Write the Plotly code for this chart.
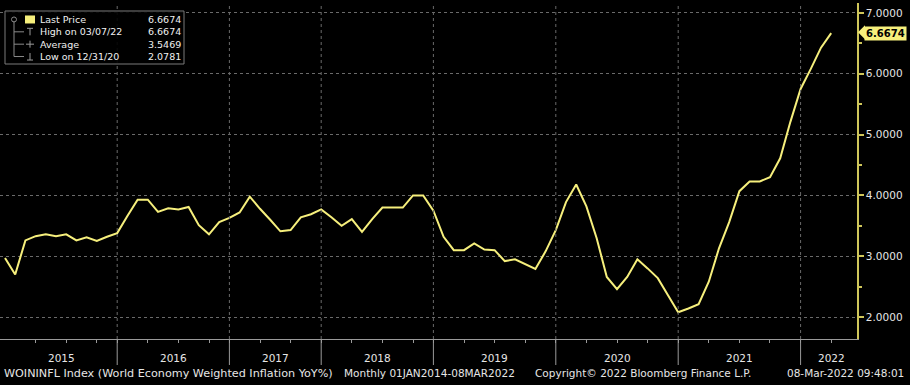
import plotly.graph_objects as go

# ---- data (monthly, index-based x) ----
values = [2.97, 2.70, 3.26, 3.33, 3.36, 3.33, 3.36, 3.26, 3.31, 3.25, 3.32, 3.38,
          3.66, 3.93, 3.93, 3.73, 3.79, 3.77, 3.81, 3.51, 3.36, 3.56, 3.63,
          3.72, 3.98, 3.78, 3.60, 3.41, 3.43, 3.64, 3.69, 3.77,
          3.64, 3.50, 3.61, 3.40, 3.61, 3.80, 3.80, 3.80, 4.00, 4.00, 3.75,
          3.32, 3.10, 3.10, 3.21, 3.11, 3.10, 2.92, 2.95, 2.87, 2.79, 3.08, 3.43,
          3.89, 4.18, 3.82, 3.30, 2.66, 2.46, 2.66, 2.95, 2.80, 2.64, 2.36, 2.0781,
          2.14, 2.21, 2.58, 3.13, 3.56, 4.07, 4.23, 4.23, 4.30, 4.61, 5.21,
          5.75, 6.08, 6.43, 6.6674]
x_index = list(range(len(values)))

year_labels = ["2015", "2016", "2017", "2018", "2019", "2020", "2021", "2022"]
year_bounds = [0, 11, 22, 31, 42, 54, 66, 78, 84]   # index of year separators
y_ticks = [2, 3, 4, 5, 6, 7]
y_ticktext = ["2.0000", "3.0000", "4.0000", "5.0000", "6.0000", "7.0000"]

legend_names = ["Last Price", "High on 03/07/22", "Average", "Low on 12/31/20"]
legend_values = ["6.6674", "6.6674", "3.5469", "2.0781"]
last_price = 6.6674

footer_title = "WOININFL Index (World Economy Weighted Inflation YoY%)"
footer_range = "Monthly 01JAN2014-08MAR2022"
footer_mid = "Copyright\u00a9 2022 Bloomberg Finance L.P."
footer_right = "08-Mar-2022 09:48:01"

# ---- geometry ----
W, H = 910, 385
ML, MR, MT, MB = 0, 53, 3, 46
PW, PH = W - ML - MR, H - MT - MB
FONT = "DejaVu Sans"
LINE = "#f6ef7c"
GRID = "#6a6a6a"
TXT = "#e6e6e6"

def px(x):
    return (x - ML) / PW

def py(y):
    return (H - MB - y) / PH

fig = go.Figure()
fig.add_trace(go.Scatter(x=x_index, y=values, mode="lines",
                         line=dict(color=LINE, width=2), hoverinfo="skip",
                         showlegend=False))

# quarter ticks on x axis
qticks = []
for b in year_bounds[:-1]:
    for k in (3, 6, 9):
        qticks.append(b + k)
qticks += [b for b in year_bounds[1:-1]]

fig.update_layout(
    width=W, height=H,
    margin=dict(l=ML, r=MR, t=MT, b=MB),
    paper_bgcolor="black", plot_bgcolor="black",
    showlegend=False, hovermode=False,
    xaxis=dict(range=[-0.49, 83.53], showgrid=False, zeroline=False,
               showline=True, linecolor="#9a9a9a", linewidth=1,
               tickmode="array", tickvals=qticks, ticks="outside",
               ticklen=3, tickcolor="#9a9a9a", showticklabels=False),
    yaxis=dict(range=[1.639, 7.164], side="right", zeroline=False,
               showline=True, linecolor="#cfc65a", linewidth=1.5,
               tickmode="array", tickvals=y_ticks, ticktext=y_ticktext,
               ticks="outside", ticklen=5, tickcolor="#cfc65a", tickwidth=1.5,
               minor=dict(tickvals=[1.5, 2.5, 3.5, 4.5, 5.5, 6.5], ticks="outside",
                          ticklen=3, tickcolor="#cfc65a", showgrid=False),
               showgrid=True, gridcolor=GRID, griddash="dot", gridwidth=1,
               tickfont=dict(family=FONT, size=10.5, color=TXT)),
)

# year separators
for b in year_bounds[1:-1]:
    fig.add_shape(type="line", xref="x", yref="paper", x0=b, x1=b, y0=0, y1=py(5),
                  line=dict(color=GRID, width=1, dash="dot"))
    fig.add_shape(type="line", xref="x", yref="paper", x0=b, x1=b, y0=0, y1=py(365),
                  line=dict(color="#9a9a9a", width=1))

# year labels
for i, lab in enumerate(year_labels):
    mid = (year_bounds[i] + year_bounds[i + 1]) / 2
    fig.add_annotation(x=mid, y=py(358), xref="x", yref="paper", text=lab,
                       showarrow=False, xanchor="center", yanchor="middle",
                       font=dict(family=FONT, size=10.5, color=TXT))

# footer
def foot(x, text, anchor, size=10.5):
    fig.add_annotation(x=px(x), y=py(373), xref="paper", yref="paper", text=text,
                       showarrow=False, xanchor=anchor, yanchor="middle",
                       font=dict(family=FONT, size=size, color=TXT))

foot(2, footer_title, "left", 11.2)
foot(342, footer_range, "left")
foot(533, footer_mid, "left")
foot(906, footer_right, "right")

# last price tag
fig.add_annotation(x=px(864), y=last_price, xref="paper", yref="y",
                   text="<b>%.4f</b>" % last_price, showarrow=False,
                   xanchor="left", yanchor="middle", bgcolor="#f6ef7c",
                   borderpad=1, font=dict(family=FONT, size=10, color="black"))
yl = 317 - (last_price - 2) * 61
fig.add_shape(type="path", xref="paper", yref="paper",
              path="M %f %f L %f %f L %f %f Z" % (px(858), py(yl), px(865), py(yl - 7),
                                                  px(865), py(yl + 7)),
              fillcolor="#f6ef7c", line=dict(width=0))

# legend box
LS = 9.5
step = LS * 1.3
fig.add_shape(type="rect", xref="paper", yref="paper",
              x0=px(5), x1=px(184), y0=py(64), y1=py(11),
              line=dict(color="#7a7a7a", width=1), fillcolor="rgba(0,0,0,0.9)")
mid_y = 38
rows_y = [mid_y + (k - 1.5) * step for k in range(4)]
# tree glyph
fig.add_shape(type="line", xref="paper", yref="paper", x0=px(14), x1=px(14),
              y0=py(rows_y[0] + 2), y1=py(rows_y[3]),
              line=dict(color="#8a8a8a", width=1))
fig.add_shape(type="circle", xref="paper", yref="paper", x0=px(11.5), x1=px(16.5),
              y0=py(rows_y[0] + 2.5), y1=py(rows_y[0] - 2.5),
              line=dict(color="#8a8a8a", width=1))
for ry in rows_y[1:]:
    fig.add_shape(type="line", xref="paper", yref="paper", x0=px(14), x1=px(24),
                  y0=py(ry), y1=py(ry), line=dict(color="#8a8a8a", width=1))
    fig.add_shape(type="line", xref="paper", yref="paper", x0=px(30), x1=px(30),
                  y0=py(ry - 3.5), y1=py(ry + 3.5), line=dict(color="#9a9a9a", width=1))
fig.add_shape(type="line", xref="paper", yref="paper", x0=px(27), x1=px(33),
              y0=py(rows_y[1] - 3.5), y1=py(rows_y[1] - 3.5), line=dict(color="#9a9a9a", width=1))
fig.add_shape(type="line", xref="paper", yref="paper", x0=px(26), x1=px(34),
              y0=py(rows_y[2]), y1=py(rows_y[2]), line=dict(color="#9a9a9a", width=1))
fig.add_shape(type="line", xref="paper", yref="paper", x0=px(27), x1=px(33),
              y0=py(rows_y[3] + 3.5), y1=py(rows_y[3] + 3.5), line=dict(color="#9a9a9a", width=1))
fig.add_shape(type="rect", xref="paper", yref="paper", x0=px(25), x1=px(35),
              y0=py(rows_y[0] + 4), y1=py(rows_y[0] - 4),
              fillcolor="#f6ef7c", line=dict(width=0))

fig.add_annotation(x=px(39), y=py(mid_y), xref="paper", yref="paper",
                   text="<br>".join(legend_names), showarrow=False, align="left",
                   xanchor="left", yanchor="middle", borderpad=0,
                   font=dict(family=FONT, size=LS, color="#f0f0f0"))
fig.add_annotation(x=px(182), y=py(mid_y), xref="paper", yref="paper",
                   text="<br>".join(legend_values), showarrow=False, align="right",
                   xanchor="right", yanchor="middle", borderpad=0,
                   font=dict(family=FONT, size=LS, color="#f0f0f0"))

fig.write_html("out.html", config={"displayModeBar": False},
               post_script="document.body.style.margin='0';document.body.style.background='black';")
